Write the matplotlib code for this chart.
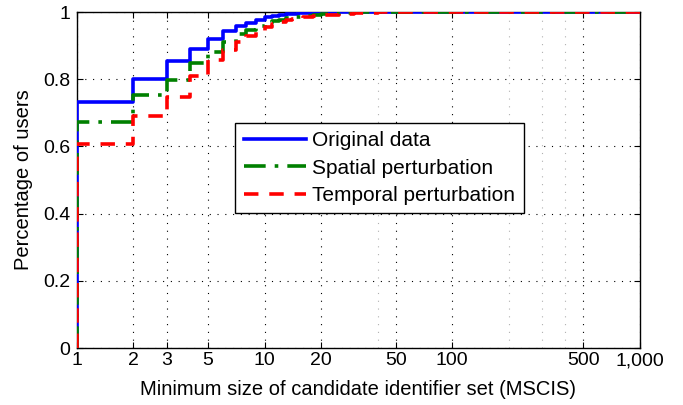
import numpy as np
import matplotlib
matplotlib.use('Agg')
import matplotlib.pyplot as plt
from matplotlib.ticker import FixedLocator, FixedFormatter, NullLocator

plt.rcParams['font.family'] = ['Liberation Sans', 'DejaVu Sans']

# step CDF data (MSCIS value, cumulative share of users)
x_orig = [1, 1, 2, 3, 4, 5, 6, 7, 8, 9, 10, 11, 12, 13, 14, 15, 17, 20, 25, 1000]
y_orig = [0, 0.733, 0.802, 0.854, 0.889, 0.920, 0.944, 0.958, 0.968, 0.976,
          0.984, 0.988, 0.991, 0.993, 0.995, 0.996, 0.998, 0.999, 1.0, 1.0]

x_spat = [1, 1, 2, 3, 4, 5, 6, 7, 8, 9, 10, 11, 12, 13, 14, 16, 18, 20, 25, 30, 1000]
y_spat = [0, 0.672, 0.753, 0.798, 0.847, 0.882, 0.912, 0.936, 0.946, 0.959,
          0.967, 0.972, 0.977, 0.981, 0.984, 0.988, 0.991, 0.994, 0.997, 1.0, 1.0]

x_temp = [1, 1, 2, 3, 4, 5, 6, 7, 8, 9, 10, 11, 12, 13, 14, 15, 16, 18, 20, 25, 30, 40, 1000]
y_temp = [0, 0.607, 0.690, 0.748, 0.811, 0.857, 0.887, 0.912, 0.929, 0.941,
          0.955, 0.964, 0.970, 0.975, 0.979, 0.983, 0.986, 0.989, 0.992, 0.995,
          0.998, 1.0, 1.0]

xticks = [1, 2, 3, 5, 10, 20, 50, 100, 500, 1000]
xtick_labels = ['1', '2', '3', '5', '10', '20', '50', '100', '500', '1,000']
faint_ticks = [40, 200, 300, 400]
yticks = [0, 0.2, 0.4, 0.6, 0.8, 1]
ytick_labels = ['0', '0.2', '0.4', '0.6', '0.8', '1']

fig = plt.figure(figsize=(6.83, 4.05), dpi=100)
ax = fig.add_axes([0.1127, 0.1407, 0.8243, 0.8296])

ax.plot(x_orig, y_orig, drawstyle='steps-post', color='#0000ff', lw=2.6,
        label='Original data', zorder=3)
ax.plot(x_spat, y_spat, drawstyle='steps-post', color='#008000', lw=2.6,
        dashes=(6, 2.5, 1, 2.5), label='Spatial perturbation', zorder=4)
ax.plot(x_temp, y_temp, drawstyle='steps-post', color='#ff0000', lw=2.6,
        dashes=(4, 3), label='Temporal perturbation', zorder=5)

ax.set_xscale('log')
ax.set_xlim(1, 1000)
ax.set_ylim(0, 1)
ax.xaxis.set_major_locator(FixedLocator(xticks))
ax.xaxis.set_major_formatter(FixedFormatter(xtick_labels))
ax.xaxis.set_minor_locator(NullLocator())
ax.set_yticks(yticks)
ax.set_yticklabels(ytick_labels)

ax.grid(True, which='major', color='black', linestyle=(0, (1, 6)), lw=0.8)
for xv in faint_ticks:
    ax.axvline(xv, color='#b0b0b0', linestyle=(0, (1, 6)), lw=0.8, zorder=0)

ax.tick_params(direction='in', top=True, right=True, labelsize=14,
               length=4, width=0.8)
ax.tick_params(axis='x', pad=3)
ax.tick_params(axis='y', pad=5)
for s in ax.spines.values():
    s.set_linewidth(1.0)

ax.set_xlabel('Minimum size of candidate identifier set (MSCIS)', fontsize=14.5,
              labelpad=8)
ax.set_ylabel('Percentage of users', fontsize=14.5, labelpad=7)

leg = ax.legend(loc='upper left', bbox_to_anchor=(0.281, 0.670), fontsize=15,
                fancybox=False, framealpha=1, edgecolor='black',
                handlelength=3.0, borderpad=0.4, labelspacing=0.4,
                handletextpad=0.3, borderaxespad=0)
leg.get_frame().set_linewidth(1.0)

fig.savefig('out.png', dpi=100)
